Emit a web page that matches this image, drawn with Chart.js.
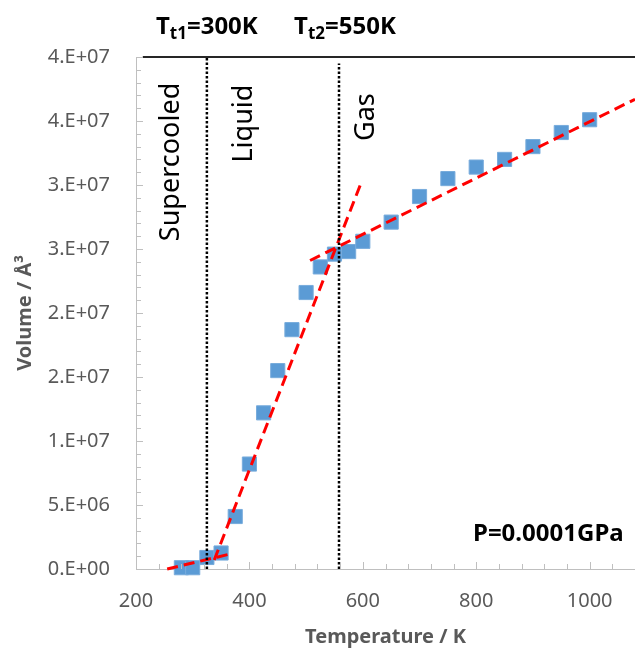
<!DOCTYPE html>
<html>
<head>
<meta charset="utf-8">
<script src="https://cdn.jsdelivr.net/npm/chart.js@4/dist/chart.umd.min.js"></script>
<style>
    html, body { margin: 0; padding: 0; background: #fff; overflow: hidden; }
    #wrap { width: 635px; height: 649px; position: relative; overflow: hidden; }
</style>
</head>
<body>
<div id="wrap"><canvas id="chart"></canvas></div>
<script>
// measured points (temperature in K, volume in Å³)
const temps = [280, 300, 325, 350, 375, 400, 425, 450, 475, 500, 525, 550, 575, 600, 650, 700, 750, 800, 850, 900, 950, 1000];
const volumes = [0.1e6, 0.1e6, 0.9e6, 1.25e6, 4.1e6, 8.2e6, 12.2e6, 15.5e6, 18.7e6, 21.6e6, 23.6e6, 24.6e6, 24.8e6, 25.6e6,
    27.1e6, 29.1e6, 30.5e6, 31.4e6, 32.0e6, 33.0e6, 34.1e6, 35.1e6];

// red dashed fits: [start, end]
const fitSolidT = [255, 366];
const fitSolidV = [0, 1.17e6];
const fitLiquidT = [338, 599];
const fitLiquidV = [0.7e6, 30.4e6];
const fitGasT = [507, 1080];
const fitGasV = [24.1e6, 36.7e6];

// dotted transition markers
const transitionT = [325, 558];
const transitionTop = [4e7, 3.95e7];
const transitionNames = ['t1', 't2'];
const transitionLabels = ['=300K', '=550K'];

const topLineT = [212, 1080];
const topLineV = [4e7, 4e7];

const phaseNames = ['Supercooled', 'Liquid', 'Gas'];
const phaseT = [263, 391, 606];
const phaseV = [31.8e6, 34.8e6, 35.3e6];

const pressureLabel = 'P=0.0001GPa';

const xTickValues = [200, 400, 600, 800, 1000];
const yTickValues = [0, 5e6, 1e7, 1.5e7, 2e7, 2.5e7, 3e7, 3.5e7, 4e7];
const yTickLabels = ['0.E+00', '5.E+06', '1.E+07', '2.E+07', '2.E+07', '3.E+07', '3.E+07', '4.E+07', '4.E+07'];

const FONT = "'Noto Sans', 'Open Sans', sans-serif";
const GREY = '#595959';
const AXIS = '#bfbfbf';

function pts(xs, ys) {
    return xs.map((x, i) => ({ x, y: ys[i] }));
}

function lineSet(xs, ys, color, width, dash) {
    return {
        type: 'scatter',
        showLine: true,
        data: pts(xs, ys),
        borderColor: color,
        borderWidth: width,
        borderDash: dash,
        pointRadius: 0,
        fill: false,
        clip: false
    };
}

// ticks drawn inside the plot, like the spreadsheet original
const innerTicks = {
    id: 'innerTicks',
    afterDraw(chart) {
        const { ctx, chartArea: a, scales: { x, y } } = chart;
        ctx.save();
        ctx.strokeStyle = AXIS;
        ctx.lineWidth = 1;
        ctx.beginPath();
        for (let v = 200; v <= x.max; v += 40) {
            const px = Math.round(x.getPixelForValue(v)) + 0.5;
            const len = v % 200 === 0 ? 7 : 5;
            ctx.moveTo(px, a.bottom);
            ctx.lineTo(px, a.bottom - len);
        }
        for (let v = 0; v <= y.max; v += 1e6) {
            const py = Math.round(y.getPixelForValue(v)) + 0.5;
            const len = v % 5e6 === 0 ? 7 : 5;
            ctx.moveTo(a.left, py);
            ctx.lineTo(a.left + len, py);
        }
        ctx.stroke();
        ctx.restore();
    }
};

const annotations = {
    id: 'annotations',
    afterDraw(chart) {
        const { ctx, scales: { x, y } } = chart;
        ctx.save();
        ctx.fillStyle = '#000';

        // phase names, rotated
        ctx.font = `27px ${FONT}`;
        ctx.textAlign = 'center';
        ctx.textBaseline = 'middle';
        phaseNames.forEach((name, i) => {
            ctx.save();
            ctx.translate(x.getPixelForValue(phaseT[i]), y.getPixelForValue(phaseV[i]));
            ctx.rotate(-Math.PI / 2);
            ctx.fillText(name, 0, 0);
            ctx.restore();
        });

        // T_t labels above the dotted lines
        ctx.textBaseline = 'alphabetic';
        ctx.textAlign = 'left';
        transitionT.forEach((t, i) => {
            const big = `bold 24px ${FONT}`;
            const small = `bold 17px ${FONT}`;
            ctx.font = big;
            const wT = ctx.measureText('T').width;
            const wRest = ctx.measureText(transitionLabels[i]).width;
            ctx.font = small;
            const wSub = ctx.measureText(transitionNames[i]).width;
            const total = wT + wSub + wRest;
            let px = x.getPixelForValue(t) - total / 2 + (i === 1 ? 6 : 0);
            const base = 34;
            ctx.font = big;
            ctx.fillText('T', px, base);
            px += wT;
            ctx.font = small;
            ctx.fillText(transitionNames[i], px, base + 5);
            px += wSub;
            ctx.font = big;
            ctx.fillText(transitionLabels[i], px, base);
        });

        ctx.font = `bold 24px ${FONT}`;
        ctx.textAlign = 'right';
        ctx.fillText(pressureLabel, x.getPixelForValue(1060), y.getPixelForValue(2.2e6));
        ctx.restore();
    }
};

new Chart(document.getElementById('chart'), {
    type: 'scatter',
    data: {
        datasets: [
            lineSet([transitionT[0], transitionT[0]], [0, transitionTop[0]], '#000', 2.5, [2.5, 2]),
            lineSet([transitionT[1], transitionT[1]], [0, transitionTop[1]], '#000', 2.5, [2.5, 2]),
            lineSet(topLineT, topLineV, '#262626', 2, []),
            lineSet(fitSolidT, fitSolidV, '#ff0000', 3, [11, 6]),
            lineSet(fitLiquidT, fitLiquidV, '#ff0000', 3, [11, 6]),
            lineSet(fitGasT, fitGasV, '#ff0000', 3, [11, 6]),
            {
                data: pts(temps, volumes),
                pointStyle: 'rect',
                pointRadius: 10,
                pointHoverRadius: 10,
                backgroundColor: '#5b9bd5',
                borderColor: '#78acdc',
                borderWidth: 1,
                clip: false
            }
        ]
    },
    options: {
        responsive: true,
        maintainAspectRatio: false,
        animation: false,
        events: [],
        layout: { autoPadding: false, padding: { top: 57, right: 0, left: 0, bottom: 0 } },
        plugins: {
            legend: { display: false },
            tooltip: { enabled: false }
        },
        scales: {
            x: {
                type: 'linear',
                min: 200,
                max: 1080,
                afterBuildTicks: scale => {
                    scale.ticks = xTickValues.map(v => ({ value: v }));
                },
                afterFit: scale => {
                    scale.height = 80;
                    scale.paddingLeft = 0;
                    scale.paddingRight = 0;
                },
                grid: { drawOnChartArea: false, drawTicks: false },
                border: { color: AXIS, width: 1 },
                ticks: {
                    color: GREY,
                    font: { family: FONT, size: 20 },
                    padding: 20,
                    maxRotation: 0,
                    callback: v => String(v)
                },
                title: {
                    display: true,
                    text: 'Temperature / K',
                    color: GREY,
                    font: { family: FONT, size: 20, weight: 'bold' },
                    padding: { top: 0, bottom: 0 }
                }
            },
            y: {
                min: 0,
                max: 4e7,
                afterBuildTicks: scale => {
                    scale.ticks = yTickValues.map(v => ({ value: v }));
                },
                afterFit: scale => {
                    scale.width = 136;
                },
                grid: { drawOnChartArea: false, drawTicks: false },
                border: { color: AXIS, width: 1 },
                ticks: {
                    color: GREY,
                    font: { family: FONT, size: 20 },
                    padding: 26,
                    callback: (v, i) => yTickLabels[i]
                },
                title: {
                    display: true,
                    text: 'Volume / Å³',
                    color: GREY,
                    font: { family: FONT, size: 20, weight: 'bold' },
                    padding: { top: 13, bottom: 0 }
                }
            }
        }
    },
    plugins: [innerTicks, annotations]
});
</script>
</body>
</html>
